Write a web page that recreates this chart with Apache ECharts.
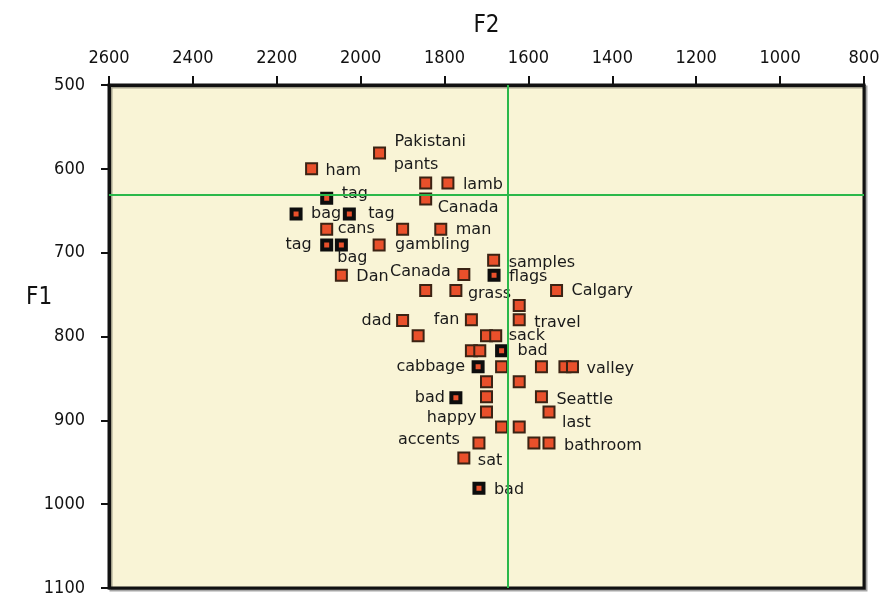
<!DOCTYPE html>
<html>
<head>
<meta charset="utf-8">
<script src="https://cdn.jsdelivr.net/npm/echarts@6/dist/echarts.min.js"></script>
<style>
  html, body { margin: 0; padding: 0; background: #ffffff; }
  #chart { width: 883px; height: 598px; }
</style>
</head>
<body>
<div id="chart"></div>
<script>
// Formant measurements (Hz): F2 on the top axis, F1 on the left axis.
// Plain tokens
const plainF2 = [1955, 2117, 1845, 1792, 1845, 2081, 1900, 1809, 1956, 1683,
                 1754, 2046, 1845, 1773, 1533, 1622, 1622, 1900, 1736, 1863,
                 1700, 1678, 1736, 1716, 1664, 1569, 1513, 1495, 1700, 1622,
                 1700, 1569, 1551, 1700, 1664, 1622, 1718, 1587, 1551, 1754];
const plainF1 = [581, 600, 617, 617, 636, 672, 672, 672, 691, 709,
                 726, 727, 745, 745, 745, 763, 780, 781, 780, 799,
                 799, 799, 817, 817, 836, 836, 836, 836, 854, 854,
                 872, 872, 890, 890, 908, 908, 927, 927, 927, 945];
const plainWords = ['Pakistani', 'ham', 'pants', 'lamb', 'Canada', 'cans', '', 'man', 'gambling', 'samples',
                    'Canada', 'Dan', '', 'grass', 'Calgary', '', 'travel', 'dad', 'fan', '',
                    '', 'sack', '', '', '', '', '', 'valley', '', '',
                    '', 'Seattle', 'last', 'happy', '', '', 'accents', '', 'bathroom', 'sat'];

// Highlighted tokens
const markedF2 = [2081, 2154, 2027, 2081, 2046, 1682, 1664, 1720, 1773, 1718];
const markedF1 = [635, 654, 654, 691, 691, 727, 817, 836, 873, 981];
const markedWords = ['tag', 'bag', 'tag', 'tag', 'bag', 'flags', 'bad', 'cabbage', 'bad', 'bad'];

// Reference lines
const refF2 = 1650;
const refF1 = 631;

// Axis ticks
const f2Range = [800, 2600, 200];
const f1Range = [500, 1100, 100];

// Label placement: [dx, dy, align] measured from the marker centre
const plainLabelLayout = [
  [15, -11, 'left'], [14, 2, 'left'], [-32, -18, 'left'], [15, 2, 'left'], [12, 9, 'left'],
  [11, 0, 'left'], null, [15, 1, 'left'], [16, 0, 'left'], [15, 3, 'left'],
  [-13, -3, 'right'], [15, 2, 'left'], null, [12, 3, 'left'], [15, 0, 'left'],
  null, [15, 3, 'left'], [-11, 0, 'right'], [-12, 0, 'right'], null,
  null, [13, 0, 'left'], null, null, null,
  null, null, [14, 2, 'left'], null, null,
  null, [15, 3, 'left'], [13, 11, 'left'], [-10, 6, 'right'], null,
  null, [-19, -3, 'right'], null, [15, 3, 'left'], [14, 3, 'left']
];
const markedLabelLayout = [
  [15, -4, 'left'], [15, 0, 'left'], [19, 0, 'left'], [-15, 0, 'right'], [-4, 13, 'left'],
  [15, 2, 'left'], [16, 0, 'left'], [-13, 0, 'right'], [-11, 0, 'right'], [15, 2, 'left']
];

const labelFont = {
  fontFamily: 'DejaVu Sans',
  fontSize: 16,
  color: '#1a1a1a'
};

function buildPoints(xs, ys, words, layout) {
  return xs.map((x, i) => {
    const item = { value: [x, ys[i]] };
    const lay = layout[i];
    if (words[i] && lay) {
      item.label = Object.assign({
        show: true,
        formatter: words[i],
        position: 'inside',
        align: lay[2],
        verticalAlign: 'middle',
        offset: [lay[0], lay[1]]
      }, labelFont);
    }
    return item;
  });
}

const chart = echarts.init(document.getElementById('chart'), null, { renderer: 'canvas' });

const tickFont = {
  fontFamily: 'DejaVu Sans Condensed',
  fontSize: 18,
  color: '#111',
  formatter: v => String(v)
};

chart.setOption({
  animation: false,
  backgroundColor: '#ffffff',
  title: {
    text: 'F1',
    left: 26,
    top: 286,
    padding: 0,
    textStyle: { fontFamily: 'DejaVu Sans Condensed', fontSize: 24, fontWeight: 'normal', color: '#111' }
  },
  grid: {
    left: 109,
    top: 85,
    right: 19,
    bottom: 10,
    show: true,
    backgroundColor: '#f9f4d6',
    borderColor: '#111111',
    borderWidth: 3,
    shadowColor: 'rgba(0,0,0,0.35)',
    shadowOffsetX: 2,
    shadowOffsetY: 2,
    shadowBlur: 0
  },
  xAxis: {
    type: 'value',
    position: 'top',
    inverse: true,
    min: f2Range[0],
    max: f2Range[1],
    interval: f2Range[2],
    name: 'F2',
    nameLocation: 'middle',
    nameGap: 47,
    nameTextStyle: { fontFamily: 'DejaVu Sans Condensed', fontSize: 24, color: '#111' },
    axisLine: { show: true, lineStyle: { color: '#111', width: 3 } },
    axisTick: { show: true, inside: false, length: 9, lineStyle: { color: '#111', width: 2 } },
    axisLabel: Object.assign({ margin: 18 }, tickFont),
    splitLine: { show: false }
  },
  yAxis: {
    type: 'value',
    inverse: true,
    min: f1Range[0],
    max: f1Range[1],
    interval: f1Range[2],
    axisLine: { show: true, lineStyle: { color: '#111', width: 3 } },
    axisTick: { show: true, inside: false, length: 8, lineStyle: { color: '#111', width: 2 } },
    axisLabel: Object.assign({ margin: 24 }, tickFont),
    splitLine: { show: false }
  },
  series: [
    {
      name: 'reference',
      type: 'scatter',
      data: [],
      silent: true,
      markLine: {
        silent: true,
        symbol: ['none', 'none'],
        label: { show: false },
        lineStyle: { color: '#2bb84a', width: 2, type: 'solid' },
        data: [{ xAxis: refF2 }, { yAxis: refF1 }]
      }
    },
    {
      name: 'plain',
      type: 'scatter',
      symbol: 'rect',
      symbolSize: 11,
      itemStyle: { color: '#e9502b', borderColor: '#3b2314', borderWidth: 2, opacity: 1 },
      data: buildPoints(plainF2, plainF1, plainWords, plainLabelLayout),
      z: 3
    },
    {
      name: 'marked',
      type: 'scatter',
      symbol: 'rect',
      symbolSize: 9,
      itemStyle: { color: '#e9502b', borderColor: '#0d0d0d', borderWidth: 4, opacity: 1 },
      data: buildPoints(markedF2, markedF1, markedWords, markedLabelLayout),
      z: 4
    }
  ]
});
</script>
</body>
</html>
